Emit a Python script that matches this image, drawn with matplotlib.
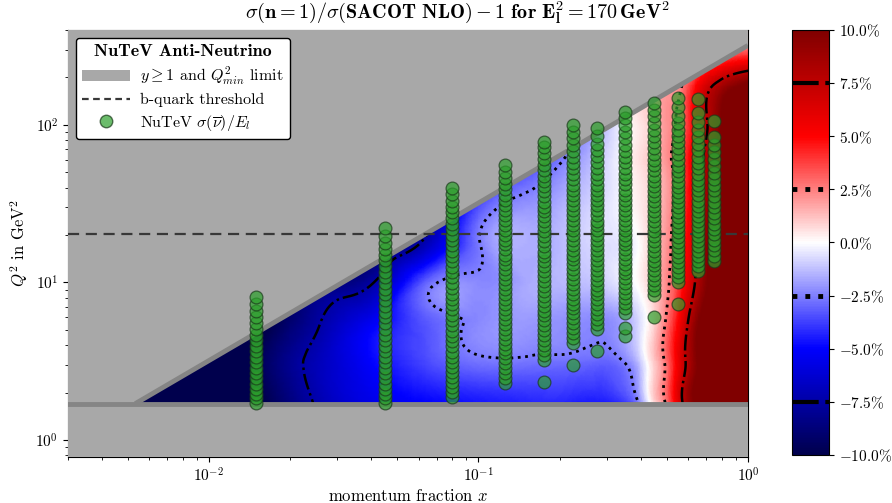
import matplotlib

matplotlib.use("Agg")
import matplotlib.pyplot as plt
import matplotlib.tri as mtri
import numpy as np
from matplotlib.font_manager import FontProperties
from matplotlib.lines import Line2D
from matplotlib.patches import Patch
from matplotlib.ticker import FuncFormatter

plt.rcParams["font.family"] = "serif"
plt.rcParams["font.serif"] = ["cmr10"]
plt.rcParams["mathtext.fontset"] = "cm"
plt.rcParams["axes.formatter.use_mathtext"] = True

# kinematic limits
proton_mass = 0.938
beam_energy = 170.0
q2_min = 1.7
q2_bquark = 20.25

# ratio sigma(n=1)/sigma(SACOT NLO) - 1 in percent, read on a grid of
# log10(x) (columns) and log10(Q^2) (rows)
log_x_nodes = [-2.6, -2.2, -2.0, -1.8, -1.6, -1.4, -1.2, -1.0, -0.8, -0.65, -0.55,
               -0.45, -0.4, -0.35, -0.3, -0.25, -0.2, -0.15, -0.1, 0.0, 0.1]
log_q2_nodes = [0.0, 0.25, 0.5, 0.75, 1.0, 1.25, 1.5, 1.75, 2.0, 2.25, 2.5, 2.75]
ratio_percent = [
    [-18, -15, -13, -10.0, -7.3, -5.6, -4.9, -4.5, -4.2, -4.3, -4.4, -3.6, -2.0, 0.8, 3.0, 7.0, 10.0, 12.0, 14.0, 16.0, 17.0],
    [-18, -15, -13, -10.0, -7.3, -5.6, -4.9, -4.5, -4.2, -4.3, -4.4, -3.6, -2.0, 0.8, 3.0, 7.0, 10.0, 12.0, 14.0, 16.0, 17.0],
    [-18, -15, -13, -9.5, -7.0, -5.0, -3.6, -2.7, -2.7, -2.8, -3.0, -2.3, -1.0, 1.0, 3.0, 6.3, 9.3, 12.0, 14.0, 16.0, 17.0],
    [-19, -16, -14, -10.5, -7.7, -5.4, -3.3, -2.3, -2.0, -2.2, -2.3, -1.6, -0.6, 0.8, 2.8, 5.6, 9.0, 11.5, 13.5, 15.5, 16.5],
    [-20, -17, -15, -12.0, -9.0, -7.7, -3.2, -2.3, -1.6, -1.3, -1.0, -0.3, 0.2, 1.2, 2.3, 4.3, 7.3, 10.0, 12.0, 14.0, 15.0],
    [-21, -18, -16, -14.0, -12.0, -9.5, -7.2, -2.6, -1.6, -1.1, -0.7, -0.4, 0.1, 1.1, 2.1, 3.9, 6.6, 9.5, 12.0, 14.0, 15.0],
    [-22, -19, -17, -15.0, -14.0, -11.5, -8.5, -3.6, -2.1, -1.3, -0.7, 0.0, 0.4, 1.0, 1.9, 3.5, 6.0, 9.0, 11.5, 13.5, 14.5],
    [-23, -20, -18, -17.0, -16.0, -13.0, -10.0, -6.0, -3.6, -2.0, -1.0, 0.1, 0.6, 1.2, 2.1, 3.5, 5.8, 8.5, 11.0, 13.0, 14.0],
    [-24, -21, -19, -18.0, -18.0, -15.0, -12.0, -8.0, -5.0, -3.0, -1.5, 0.0, 0.5, 1.2, 2.1, 2.9, 5.2, 7.5, 10.0, 12.5, 13.5],
    [-25, -22, -20, -19.0, -20.0, -17.0, -14.0, -10.0, -6.0, -3.5, -1.5, 0.0, 0.6, 1.2, 1.8, 2.3, 4.5, 6.8, 8.4, 10.5, 11.5],
    [-25, -22, -20, -19.0, -20.0, -17.0, -14.0, -10.0, -6.0, -3.5, -1.5, -0.5, 0.0, 0.5, 1.0, 1.5, 1.5, 1.5, 2.0, 2.5, 3.0],
    [-25, -22, -20, -19.0, -20.0, -17.0, -14.0, -10.0, -6.0, -3.5, -1.5, -0.5, 0.0, 0.5, 1.0, 1.5, 1.5, 1.5, 2.0, 2.5, 3.0],
]

# NuTeV anti-neutrino data points: Q^2 values per x bin
nutev_x = [0.015, 0.045, 0.080, 0.125, 0.175, 0.225, 0.275, 0.35, 0.45, 0.55, 0.65, 0.75]
nutev_q2 = [
    [1.72, 1.84, 1.97, 2.12, 2.28, 2.46, 2.66, 2.88, 3.12, 3.38, 3.66, 3.97, 4.3, 4.66, 5.05, 5.5, 6.0, 6.6, 7.3, 8.1],
    [1.72, 1.84, 1.97, 2.12, 2.28, 2.46, 2.66, 2.88, 3.12, 3.38, 3.66, 3.97, 4.3, 4.66, 5.05, 5.5, 6.0, 6.5,
     7.1, 7.7, 8.4, 9.1, 9.9, 10.8, 11.7, 12.7, 13.8, 15.0, 16.4, 17.9, 19.8, 22.2],
    [1.88, 2.02, 2.17, 2.33, 2.5, 2.7, 2.9, 3.13, 3.38, 3.64, 3.93, 4.24, 4.58, 4.95, 5.35, 5.8, 6.25, 6.75,
     7.3, 7.9, 8.5, 9.2, 9.95, 10.8, 11.7, 12.6, 13.6, 14.7, 15.9, 17.2, 18.6, 20.1, 21.8, 23.6, 25.6, 27.8,
     30.3, 33.0, 36.2, 39.8],
    [2.3, 2.47, 2.65, 2.85, 3.06, 3.29, 3.54, 3.8, 4.09, 4.4, 4.73, 5.08, 5.46, 5.87, 6.31, 6.78, 7.29, 7.84,
     8.43, 9.06, 9.74, 10.5, 11.3, 12.1, 13.0, 14.0, 15.0, 16.2, 17.4, 18.7, 20.1, 21.6, 23.2, 25.0, 26.9,
     28.9, 31.1, 33.5, 36.1, 39.0, 42.2, 45.7, 50.0, 55.7],
    [2.33, 3.22, 3.46, 3.72, 4.0, 4.3, 4.62, 4.97, 5.34, 5.74, 6.17, 6.63, 7.13, 7.66, 8.23, 8.85, 9.51, 10.2,
     11.0, 11.8, 12.7, 13.6, 14.6, 15.7, 16.9, 18.2, 19.6, 21.1, 22.7, 24.4, 26.2, 28.2, 30.3, 32.6, 35.1,
     37.8, 40.7, 43.9, 47.4, 51.3, 55.6, 60.4, 65.8, 71.8, 78.3],
    [3.0, 4.13, 4.44, 4.77, 5.13, 5.51, 5.92, 6.36, 6.83, 7.34, 7.89, 8.48, 9.11, 9.79, 10.5, 11.3, 12.1, 13.0,
     14.0, 15.0, 16.1, 17.3, 18.6, 20.0, 21.5, 23.1, 24.8, 26.7, 28.7, 30.9, 33.3, 35.9, 38.7, 41.8, 45.2,
     48.9, 53.0, 57.6, 62.7, 68.4, 74.8, 82.0, 90.4, 100.0],
    [3.67, 5.07, 5.45, 5.86, 6.3, 6.77, 7.27, 7.81, 8.39, 9.01, 9.68, 10.4, 11.2, 12.0, 12.9, 13.9, 14.9, 16.0,
     17.2, 18.5, 19.9, 21.4, 23.0, 24.7, 26.6, 28.6, 30.8, 33.2, 35.8, 38.6, 41.7, 45.1, 48.8, 53.0, 57.7,
     63.0, 69.0, 75.9, 85.0, 96.0],
    [4.58, 5.15, 6.4, 6.88, 7.39, 7.94, 8.53, 9.16, 9.84, 10.6, 11.4, 12.2, 13.1, 14.1, 15.1, 16.2, 17.4, 18.7,
     20.1, 21.6, 23.2, 24.9, 26.8, 28.8, 31.0, 33.4, 36.0, 38.8, 41.9, 45.3, 49.0, 53.1, 57.7, 62.8, 68.5,
     74.9, 82.1, 90.3, 99.8, 110.0, 121.0],
    [6.0, 8.3, 8.92, 9.58, 10.3, 11.1, 11.9, 12.8, 13.7, 14.7, 15.8, 17.0, 18.3, 19.7, 21.2, 22.8, 24.5, 26.3,
     28.3, 30.4, 32.7, 35.2, 37.9, 40.8, 44.0, 47.5, 51.3, 55.5, 60.2, 65.4, 71.2, 77.7, 85.0, 93.3, 103.0,
     114.0, 125.0, 138.0],
    [7.3, 10.0, 10.8, 11.6, 12.5, 13.4, 14.4, 15.5, 16.7, 18.0, 19.3, 20.8, 22.4, 24.1, 25.9, 27.9, 30.0, 32.3,
     34.8, 37.5, 40.4, 43.6, 47.1, 50.9, 55.1, 59.8, 65.0, 70.8, 77.3, 84.6, 93.0, 103.0, 114.0, 130.0, 149.0],
    [11.8, 12.7, 13.7, 14.7, 15.8, 17.0, 18.3, 19.7, 21.2, 22.8, 24.5, 26.4, 28.4, 30.6, 33.0, 35.6, 38.4,
     41.5, 44.9, 48.7, 52.9, 57.6, 62.9, 68.9, 75.8, 83.7, 93.0, 104.0, 118.0, 146.0],
    [13.7, 14.8, 16.0, 17.3, 18.7, 20.2, 21.8, 23.6, 25.5, 27.6, 29.9, 32.4, 35.2, 38.3, 41.7, 45.5, 49.8,
     54.7, 60.3, 66.8, 74.5, 84.0, 106.0],
]

cbar_ticks = [-10.0, -7.5, -5.0, -2.5, 0.0, 2.5, 5.0, 7.5, 10.0]

x_lo, x_hi = 3e-3, 1.0
y_lo, y_hi = 0.78, 400.0
rect = [0.0762, 0.0915, 0.7623, 0.849]

fig = plt.figure(figsize=(8.92, 5.03), dpi=100)
# field is drawn in log10 coordinates on a plain axes lying under the log axes
ax_f = fig.add_axes(rect, zorder=0)
ax = fig.add_axes(rect, zorder=1)
ax.patch.set_visible(False)
cax = fig.add_axes([0.8878, 0.0955, 0.0415, 0.845])

gu, gv = np.meshgrid(log_x_nodes, log_q2_nodes)
tri_coarse = mtri.Triangulation(gu.ravel(), gv.ravel())
refiner = mtri.UniformTriRefiner(tri_coarse)
tri_fine, z_fine = refiner.refine_field(np.asarray(ratio_percent, float).ravel(), subdiv=4)

mesh = ax_f.tripcolor(tri_fine, z_fine, cmap="seismic", vmin=-10, vmax=10, shading="gouraud")
ax_f.tricontour(tri_fine, z_fine, levels=[-7.5, 7.5], colors="k", linestyles="-.", linewidths=1.8)
ax_f.tricontour(tri_fine, z_fine, levels=[-2.5, 2.5], colors="k", linestyles=":", linewidths=2.0)
ax_f.set_xlim(np.log10(x_lo), np.log10(x_hi))
ax_f.set_ylim(np.log10(y_lo), np.log10(y_hi))
ax_f.axis("off")

# kinematically excluded regions
slope = 2 * proton_mass * beam_energy
x_edge = q2_min / slope
gray = "#a8a8a8"
ax.fill([x_lo, x_hi, x_hi, x_lo], [slope * x_lo, slope * x_hi, 1e4, 1e4],
        color=gray, lw=0, zorder=3)
ax.fill([x_lo, x_hi, x_hi, x_lo], [0.1, 0.1, q2_min, q2_min], color=gray, lw=0, zorder=3)
ax.plot([x_edge, x_hi], [q2_min, slope * x_hi], color="#858585", lw=3.5, zorder=4,
        solid_capstyle="butt")
ax.plot([x_lo, x_hi], [q2_min, q2_min], color="#858585", lw=3.5, zorder=4)

ax.axhline(q2_bquark, color="#383838", ls=(0, (5, 3)), lw=1.6, zorder=5)

for xb, q2s in zip(nutev_x, nutev_q2):
    ax.scatter(np.full(len(q2s), xb), q2s, s=85, color="#2ca02c", alpha=0.7,
               edgecolors="#1a3a1a", linewidths=0.9, zorder=6)

ax.set_xscale("log")
ax.set_yscale("log")
ax.set_xlim(x_lo, x_hi)
ax.set_ylim(y_lo, y_hi)
log_fmt = FuncFormatter(lambda v, p: rf"$10^{{{int(round(np.log10(v)))}}}$")
ax.xaxis.set_major_formatter(log_fmt)
ax.yaxis.set_major_formatter(log_fmt)
ax.tick_params(labelsize=11)
ax.set_xlabel(r"momentum fraction $x$", fontsize=12, labelpad=2)
ax.set_ylabel(r"$Q^2$ in GeV$^2$", fontsize=12)
fig.text(0.513, 0.963,
         r"$\sigma(\mathbf{n=1})/\sigma(\mathbf{SACOT\ NLO})-\mathbf{1\ for\ E_l^2=170\,GeV^2}$",
         fontsize=14.5, ha="center", va="baseline")

handles = [
    Patch(facecolor=gray, edgecolor="none"),
    Line2D([], [], color="#383838", ls=(0, (3, 2)), lw=1.6),
    Line2D([], [], ls="none", marker="o", markersize=9, color="#2ca02c", alpha=0.7,
           markeredgecolor="#1a3a1a"),
]
labels = [r"$y \geq 1$ and $Q^2_{min}$ limit", "b-quark threshold",
          r"NuTeV $\sigma(\overline{\nu})/E_l$"]
leg = ax.legend(handles, labels, loc="upper left", fontsize=11.5, title="NuTeV Anti-Neutrino",
                title_fontproperties=FontProperties(family="cmb10", size=13),
                framealpha=1, edgecolor="k", fancybox=True, handlelength=3.0,
                handletextpad=0.6, borderaxespad=0.5, labelspacing=0.35)
leg.set_zorder(10)

cbar = fig.colorbar(mesh, cax=cax, ticks=cbar_ticks)
cbar.ax.yaxis.set_major_formatter(FuncFormatter(lambda v, p: rf"${v:.1f}\%$"))
cbar.ax.tick_params(labelsize=11)
for lev in (-7.5, 7.5):
    cax.axhline(lev, color="k", ls="-.", lw=3)
for lev in (-2.5, 2.5):
    cax.axhline(lev, color="k", ls=":", lw=3.5)

fig.savefig("out.png", dpi=100)
